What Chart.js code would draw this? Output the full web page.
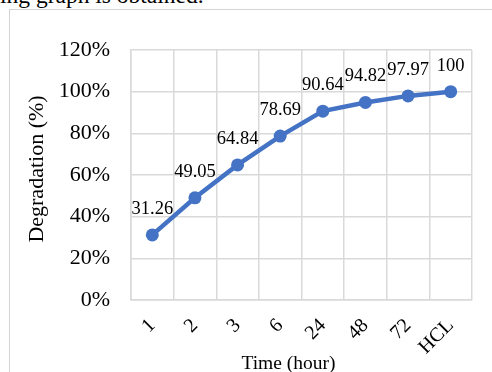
<!DOCTYPE html>
<html>
<head>
<meta charset="utf-8">
<script src="https://cdn.jsdelivr.net/npm/chart.js@4/dist/chart.umd.min.js"></script>
<style>
  html, body { margin: 0; padding: 0; background: #fff; overflow: hidden; }
  #wrap { position: relative; width: 492px; height: 372px; overflow: hidden; }
  #caption { position: absolute; left: 0px; top: -16px; font-family: "Liberation Serif", "Times New Roman", serif; font-size: 23.5px; line-height: 23.5px; color: #000; white-space: nowrap; }
  #frame { position: absolute; left: 9px; top: 9px; width: 520px; height: 420px; border: 1px solid #d4d4d4; box-sizing: border-box; }
  #c { position: absolute; left: 0; top: 0; }
</style>
</head>
<body>
<div id="wrap">
  <div id="caption">ing graph is obtained.</div>
  <div id="frame"></div>
  <canvas id="c" width="492" height="372"></canvas>
</div>
<script>
const categories = ["1", "2", "3", "6", "24", "48", "72", "HCL"];
const degradation = [31.26, 49.05, 64.84, 78.69, 90.64, 94.82, 97.97, 100];
const yTicks = [0, 20, 40, 60, 80, 100, 120];
const xTitle = "Time (hour)";
const yTitle = "Degradation (%)";

const serif = "'Liberation Serif', 'Times New Roman', serif";
const gridColor = "#d9d9d9";
const lineColor = "#4472C4";

const labelPlugin = {
  id: "valueLabels",
  afterDatasetsDraw(chart) {
    const ctx = chart.ctx;
    const meta = chart.getDatasetMeta(0);
    ctx.save();
    ctx.font = "18.5px " + serif;
    ctx.fillStyle = "#000";
    ctx.textAlign = "center";
    ctx.textBaseline = "alphabetic";
    meta.data.forEach((pt, i) => {
      ctx.fillText(String(degradation[i]), pt.x, pt.y - 21);
    });
    ctx.restore();
  }
};

const titlePlugin = {
  id: "axisTitles",
  afterDraw(chart) {
    const ctx = chart.ctx;
    const a = chart.chartArea;
    ctx.save();
    ctx.fillStyle = "#000";
    ctx.textAlign = "center";
    ctx.textBaseline = "alphabetic";
    ctx.font = "19.5px " + serif;
    ctx.fillText(xTitle, (a.left + a.right) / 2 - 13, chart.height - 3);
    ctx.font = "22px " + serif;
    ctx.translate(43, (a.top + a.bottom) / 2 - 6);
    ctx.rotate(-Math.PI / 2);
    ctx.fillText(yTitle, 0, 0);
    ctx.restore();
  }
};

new Chart(document.getElementById("c"), {
  type: "line",
  data: {
    labels: categories,
    datasets: [{
      data: degradation,
      borderColor: lineColor,
      backgroundColor: lineColor,
      borderWidth: 4.5,
      pointRadius: 6.5,
      pointHoverRadius: 6.5,
      pointBackgroundColor: lineColor,
      pointBorderColor: lineColor,
      pointBorderWidth: 0,
      tension: 0,
      fill: false
    }]
  },
  options: {
    responsive: false,
    animation: false,
    devicePixelRatio: 1,
    layout: { padding: { left: 0, right: 20, top: 50, bottom: 0 } },
    plugins: { legend: { display: false }, tooltip: { enabled: false } },
    scales: {
      x: {
        type: "category",
        offset: true,
        grid: { offset: true, color: gridColor, lineWidth: 1.5, drawTicks: false },
        border: { color: gridColor, width: 1.5 },
        ticks: {
          color: "#000",
          font: { family: serif, size: 20 },
          maxRotation: 45, minRotation: 45,
          padding: 14,
          autoSkip: false
        },
        afterFit(scale) { scale.height = 72; }
      },
      y: {
        min: 0, max: 120,
        afterBuildTicks(scale) { scale.ticks = yTicks.map(v => ({ value: v })); },
        grid: { color: gridColor, lineWidth: 1.5, drawTicks: false },
        border: { color: gridColor, width: 1.5 },
        ticks: {
          color: "#000",
          font: { family: serif, size: 22 },
          padding: 21,
          callback: v => v + "%"
        },
        afterFit(scale) { scale.width = 131; }
      }
    }
  },
  plugins: [labelPlugin, titlePlugin]
});
</script>
</body>
</html>
